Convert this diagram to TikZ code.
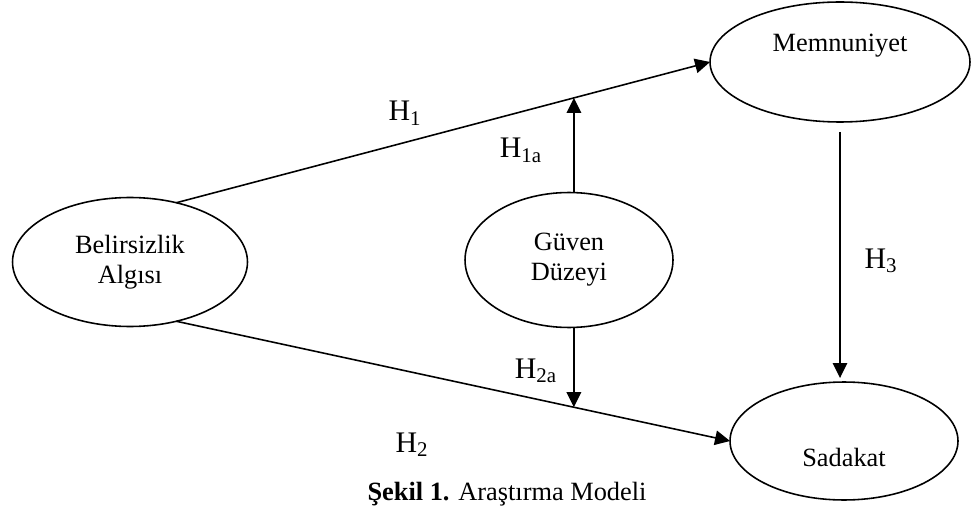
\documentclass[tikz,border=0pt]{standalone}
\usepackage{fontspec}
\setmainfont{Liberation Serif}
\usetikzlibrary{shapes.geometric,arrows.meta}

\begin{document}
\begin{tikzpicture}
[
    x=0.02cm, y=-0.02cm,
    construct/.style={ellipse, draw, line width=0.9pt, inner sep=0pt, outer sep=0pt,
        align=center, font=\fontsize{15}{17}\selectfont},
    hyp/.style={anchor=base, font=\fontsize{17}{20}\selectfont},
    link/.style={line width=0.9pt, -{Triangle[length=0.3cm, width=0.29cm]}},
]
\useasboundingbox (0,0) rectangle (972,506);

% constructs
\node[construct, minimum width=5.2cm, minimum height=2.4cm] (mem) at (840,62) {Memnuniyet\\\strut};
\node[construct, minimum width=4.7cm, minimum height=2.58cm] (bel) at (130,262) {Belirsizlik\\Algısı};
\node[construct, minimum width=4.16cm, minimum height=2.7cm] (gd) at (569,260) {Güven\\Düzeyi};
\node[construct, minimum width=4.56cm, minimum height=2.36cm] (sad) at (844,441) {\strut\\Sadakat};

% paths
\draw[link] (bel.52) -- coordinate[pos=0.745] (h1a) (mem.west);
\draw[link] (bel.-52) -- coordinate[pos=0.718] (h2a) (sad.west);
\draw[link] (gd.north -| h1a) -- (h1a);
\draw[link] (gd.south -| h2a) -- (h2a);
\draw[link, shorten <=0.2cm, shorten >=0.08cm] (mem.south) -- (mem.south |- sad.north);

% hypotheses
\node[hyp] (t1) at (405,121) {H\textsubscript{1}};
\node[hyp] (t1a) at (521,158) {H\textsubscript{1a}};
\node[hyp] (t2a) at (536,378) {H\textsubscript{2a}};
\node[hyp] (t2) at (412,452) {H\textsubscript{2}};
\node[hyp] (t3) at (881,268) {H\textsubscript{3}};

\node[anchor=base, font=\fontsize{15}{17}\selectfont] (cap) at (507,500) {\textbf{Şekil 1.} Araştırma Modeli};
\end{tikzpicture}
\end{document}
